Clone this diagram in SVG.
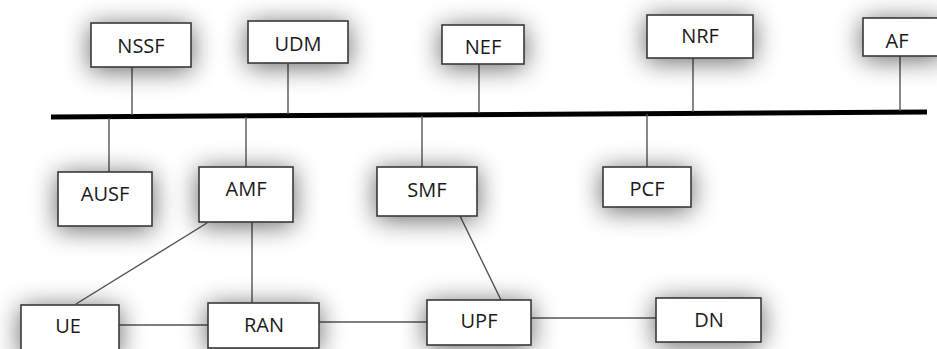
<svg xmlns="http://www.w3.org/2000/svg" width="937" height="349" viewBox="0 0 937 349">
<defs>
<filter id="glow" x="-60%" y="-80%" width="220%" height="260%">
<feGaussianBlur in="SourceAlpha" stdDeviation="13"/>
<feOffset dx="0" dy="3"/>
<feComponentTransfer><feFuncA type="linear" slope="0.6"/></feComponentTransfer>
<feMerge><feMergeNode/><feMergeNode in="SourceGraphic"/></feMerge>
</filter>
</defs>
<style>
.box{fill:#fff;stroke:#3a3a3a;stroke-width:1.6}
.lbl{font-family:"Open Sans","Liberation Sans",sans-serif;font-size:20px;fill:#1a1a1a;text-anchor:middle}
.ln{stroke:#555;stroke-width:1.4;fill:none}
.bus{stroke:#000;stroke-width:5;fill:none}
</style>
<rect width="937" height="349" fill="#fff"/>
<g id="connectors">
<line class="bus" x1="51" y1="117" x2="927" y2="112"/>
<line class="ln" x1="132" y1="67" x2="132" y2="115"/>
<line class="ln" x1="288" y1="63" x2="288" y2="114"/>
<line class="ln" x1="479" y1="64" x2="479" y2="113"/>
<line class="ln" x1="693" y1="58" x2="693" y2="112"/>
<line class="ln" x1="900" y1="56" x2="900" y2="111"/>
<line class="ln" x1="109" y1="118" x2="109" y2="172"/>
<line class="ln" x1="246" y1="117" x2="246" y2="167"/>
<line class="ln" x1="422" y1="116" x2="422" y2="167"/>
<line class="ln" x1="647" y1="114" x2="647" y2="167"/>
<line class="ln" x1="207" y1="223" x2="76" y2="304"/>
<line class="ln" x1="252" y1="222" x2="252" y2="303"/>
<line class="ln" x1="460" y1="216" x2="501" y2="300"/>
<line class="ln" x1="119" y1="325" x2="208" y2="325"/>
<line class="ln" x1="319" y1="322" x2="427" y2="322"/>
<line class="ln" x1="531" y1="318" x2="656" y2="318"/>
</g>
<g id="NSSF"><rect class="box" x="91" y="23" width="100" height="44" filter="url(#glow)"/><text class="lbl" x="141" y="53">NSSF</text></g>
<g id="UDM"><rect class="box" x="248" y="21" width="100" height="42" filter="url(#glow)"/><text class="lbl" x="298" y="51">UDM</text></g>
<g id="NEF"><rect class="box" x="442" y="25" width="82" height="39" filter="url(#glow)"/><text class="lbl" x="483" y="54">NEF</text></g>
<g id="NRF"><rect class="box" x="647" y="15" width="106" height="43" filter="url(#glow)"/><text class="lbl" x="700" y="43">NRF</text></g>
<g id="AF"><rect class="box" x="863" y="18" width="80" height="38" filter="url(#glow)"/><text class="lbl" x="897" y="48">AF</text></g>
<g id="AUSF"><rect class="box" x="58" y="172" width="94" height="54" filter="url(#glow)"/><text class="lbl" x="105" y="201">AUSF</text></g>
<g id="AMF"><rect class="box" x="199" y="167" width="94" height="55" filter="url(#glow)"/><text class="lbl" x="246" y="196">AMF</text></g>
<g id="SMF"><rect class="box" x="377" y="167" width="100" height="49" filter="url(#glow)"/><text class="lbl" x="427" y="197">SMF</text></g>
<g id="PCF"><rect class="box" x="603" y="167" width="88" height="40" filter="url(#glow)"/><text class="lbl" x="647" y="196">PCF</text></g>
<g id="UE"><rect class="box" x="21" y="305" width="98" height="50" filter="url(#glow)"/><text class="lbl" x="68" y="333">UE</text></g>
<g id="RAN"><rect class="box" x="208" y="303" width="111" height="45" filter="url(#glow)"/><text class="lbl" x="264" y="332">RAN</text></g>
<g id="UPF"><rect class="box" x="427" y="300" width="104" height="45" filter="url(#glow)"/><text class="lbl" x="479" y="328">UPF</text></g>
<g id="DN"><rect class="box" x="656" y="298" width="105" height="44" filter="url(#glow)"/><text class="lbl" x="709" y="327">DN</text></g>
</svg>
